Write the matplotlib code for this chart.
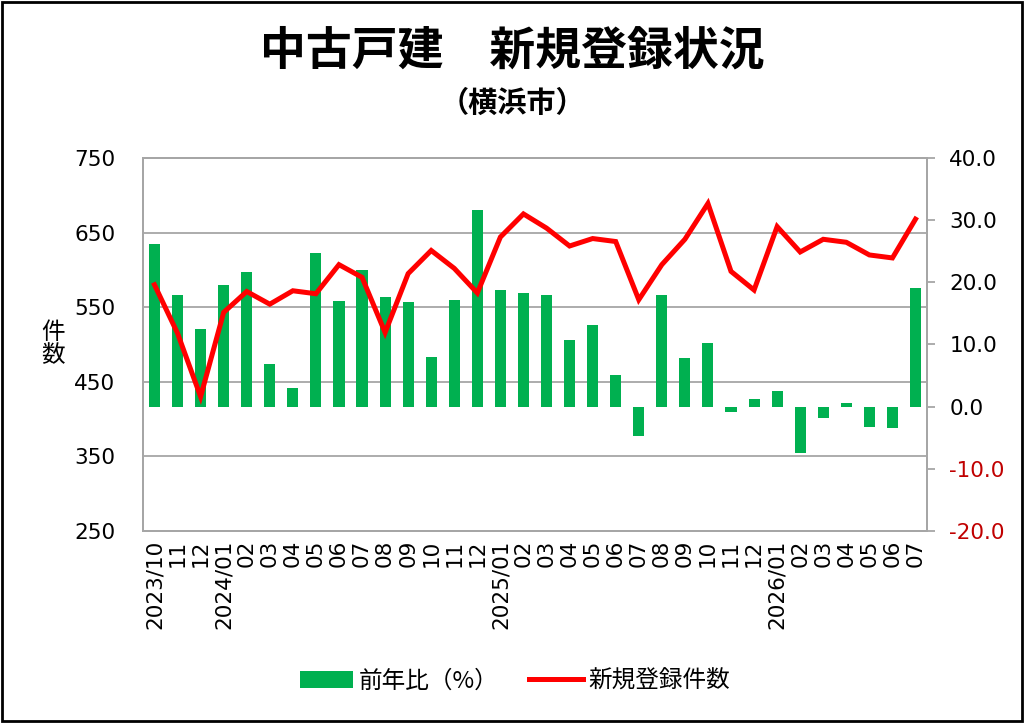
import matplotlib
matplotlib.use('Agg')
import matplotlib.pyplot as plt
import numpy as np
from matplotlib.patches import Patch
from matplotlib.lines import Line2D

plt.rcParams['font.family'] = ['Noto Sans CJK JP', 'DejaVu Sans']

# months 2023/10 .. 2026/07
months = ['2023/10', '11', '12', '2024/01', '02', '03', '04', '05', '06', '07',
          '08', '09', '10', '11', '12', '2025/01', '02', '03', '04', '05', '06',
          '07', '08', '09', '10', '11', '12', '2026/01', '02', '03', '04', '05',
          '06', '07']

# year-over-year change (%), right axis
yoy = [26.2, 17.9, 12.5, 19.5, 21.6, 6.8, 3.0, 24.7, 17.0, 22.0, 17.6, 16.8,
       8.0, 17.2, 31.6, 18.7, 18.3, 17.9, 10.8, 13.2, 5.1, -4.7, 18.0, 7.8,
       10.3, -0.8, 1.2, 2.5, -7.5, -1.9, 0.6, -3.2, -3.4, 19.1]

# new listings count, left axis
listings = [580, 515, 430, 543, 571, 554, 572, 568, 607, 590, 516, 595, 626,
            602, 569, 644, 675, 656, 632, 642, 638, 560, 607, 641, 689, 598,
            573, 658, 624, 641, 637, 620, 616, 668]

GREEN = '#00B050'
RED = '#FF0000'
GRID = '#A6A6A6'
NUMFONT = 'DejaVu Sans'

fig = plt.figure(figsize=(10.24, 7.23), dpi=100)
ax = fig.add_axes([0.1396, 0.2656, 0.7657, 0.5159])
ax2 = ax.twinx()
ax3 = ax.twinx()

x = np.arange(len(months))

# left axis: grid and counts scale
ax.set_ylim(250, 750)
ax.set_yticks(np.arange(250, 751, 100))
ax.grid(axis='y', color=GRID, linewidth=1.3)
ax.tick_params(axis='y', length=0, pad=20, labelsize=15.5,
               labelfontfamily=NUMFONT)
ax.set_xlim(-0.5, len(months) - 0.5)
ax.set_xticks(x)
ax.set_xticklabels(months, rotation=90)
ax.tick_params(axis='x', length=0, pad=6, labelsize=15.5,
               labelfontfamily=NUMFONT)

# bars on right axis
ax2.bar(x, yoy, width=0.48, color=GREEN, zorder=2)
ax2.set_ylim(-20, 40)
ax2.set_yticks(np.arange(-20, 41, 10))
ax2.set_yticklabels(['{:.1f}'.format(v) for v in np.arange(-20, 41, 10)])
ax2.tick_params(axis='y', length=6, width=1.3, color=GRID, pad=10,
                labelsize=15.5, labelfontfamily=NUMFONT)
for lab, v in zip(ax2.get_yticklabels(), np.arange(-20, 41, 10)):
    if v < 0:
        lab.set_color('#C00000')

# line on its own axes with the left scale so it sits above the bars
ax3.plot(x, listings, color=RED, linewidth=3.6, solid_joinstyle='miter')
ax3.set_ylim(ax.get_ylim())
ax3.set_yticks([])

for a in (ax, ax2, ax3):
    for s in a.spines.values():
        s.set_color(GRID)
        s.set_linewidth(1.3)

ax.text(-0.115, 0.5, '件\n数', transform=ax.transAxes, fontsize=17,
        ha='center', va='center', linespacing=1.0)

fig.text(0.5, 0.929, '中古戸建　新規登録状況', fontsize=33, fontweight='bold',
         ha='center', va='center')
fig.text(0.5, 0.857, '（横浜市）', fontsize=21, fontweight='bold',
         ha='center', va='center')

handles = [Patch(facecolor=GREEN, edgecolor='none'),
           Line2D([0], [0], color=RED, linewidth=3.6)]
fig.legend(handles, ['前年比（%）', '新規登録件数'], loc='center',
           bbox_to_anchor=(0.503, 0.058), ncol=2, frameon=False, fontsize=17,
           handlelength=2.25, handleheight=0.7, columnspacing=1.3,
           handletextpad=0.25)

# outer black frame
fig.patches.append(plt.Rectangle((0.002, 0.003), 0.996, 0.994,
                                 transform=fig.transFigure, fill=False,
                                 edgecolor='black', linewidth=2))

fig.savefig('out.png', dpi=100)
